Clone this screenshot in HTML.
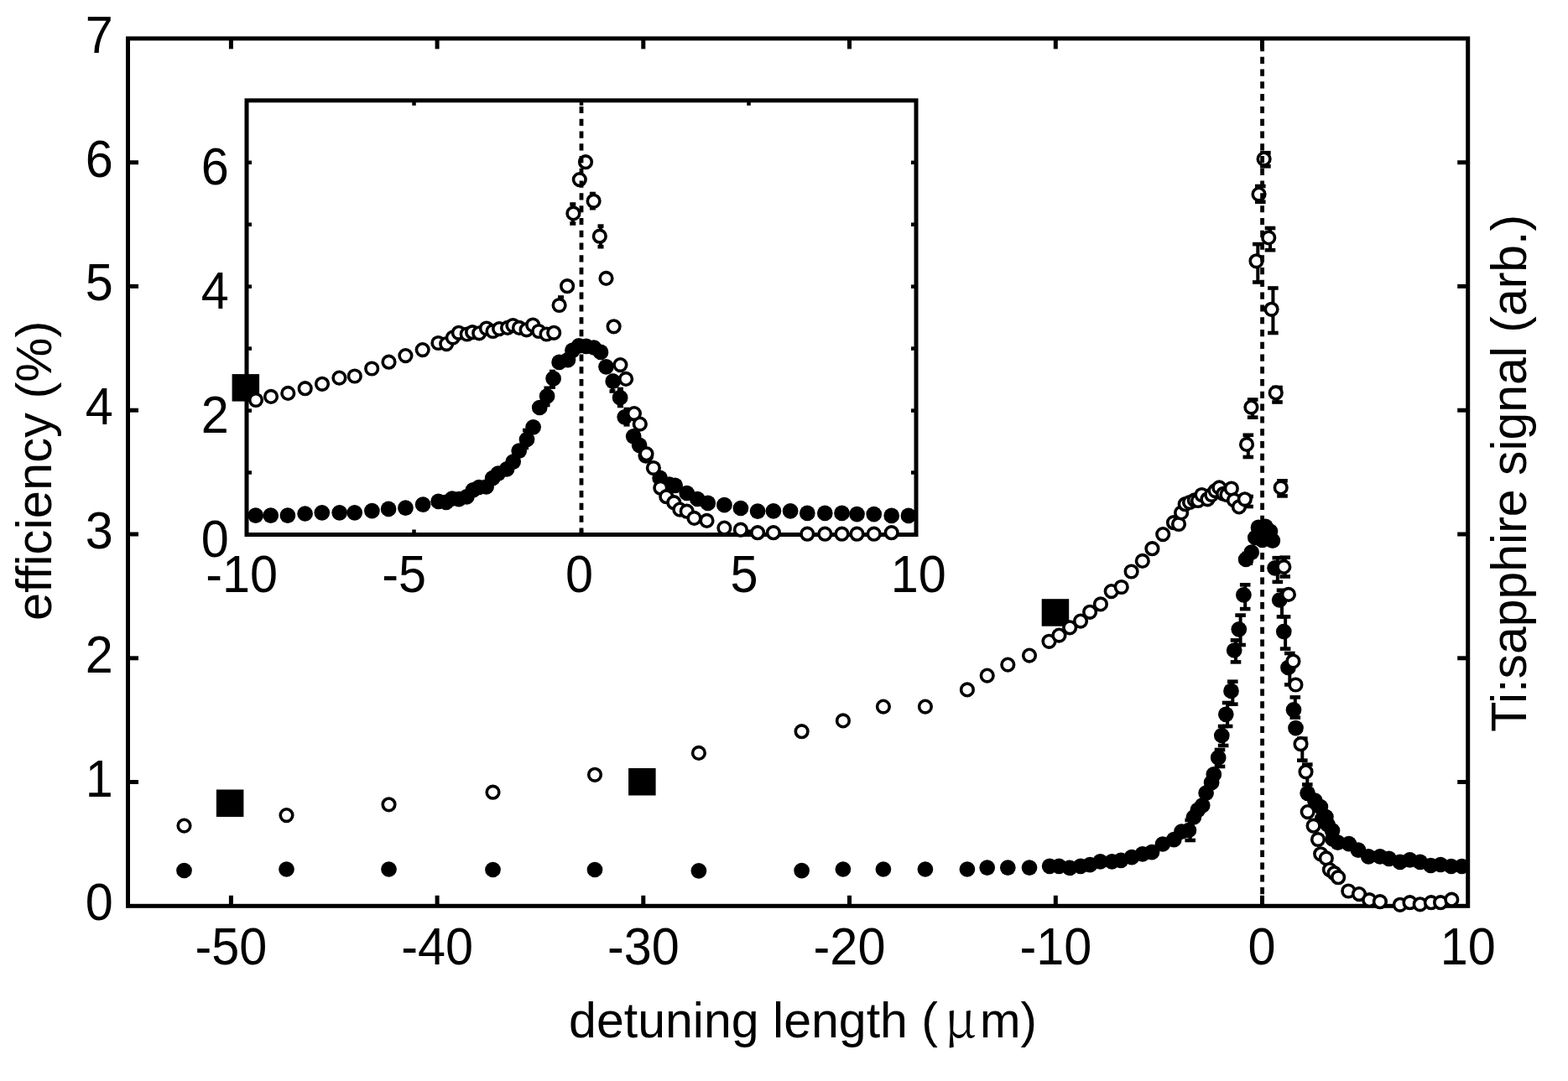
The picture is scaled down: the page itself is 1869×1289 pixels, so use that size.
<!DOCTYPE html><html><head><meta charset="utf-8"><title>efficiency vs detuning length</title>
<style>html,body{margin:0;padding:0;background:#fff;}svg{display:block;}text{font-family:"Liberation Sans",Arial,Helvetica,sans-serif;fill:#000;}</style></head><body>
<svg width="1869" height="1289" viewBox="0 0 1869 1289">
<rect x="0" y="0" width="1869" height="1289" fill="#fff"/>
<g stroke="#000" stroke-width="5.0" fill="none" stroke-linecap="square">
<rect x="152.5" y="45.9" width="1597.2" height="1034.4"/>
<line x1="275.4" y1="1080.3" x2="275.4" y2="1067.8" stroke-linecap="butt"/>
<line x1="275.4" y1="45.9" x2="275.4" y2="58.4" stroke-linecap="butt"/>
<line x1="521.1" y1="1080.3" x2="521.1" y2="1067.8" stroke-linecap="butt"/>
<line x1="521.1" y1="45.9" x2="521.1" y2="58.4" stroke-linecap="butt"/>
<line x1="766.8" y1="1080.3" x2="766.8" y2="1067.8" stroke-linecap="butt"/>
<line x1="766.8" y1="45.9" x2="766.8" y2="58.4" stroke-linecap="butt"/>
<line x1="1012.5" y1="1080.3" x2="1012.5" y2="1067.8" stroke-linecap="butt"/>
<line x1="1012.5" y1="45.9" x2="1012.5" y2="58.4" stroke-linecap="butt"/>
<line x1="1258.3" y1="1080.3" x2="1258.3" y2="1067.8" stroke-linecap="butt"/>
<line x1="1258.3" y1="45.9" x2="1258.3" y2="58.4" stroke-linecap="butt"/>
<line x1="1504.5" y1="1080.3" x2="1504.5" y2="1067.8" stroke-linecap="butt"/>
<line x1="1504.5" y1="45.9" x2="1504.5" y2="58.4" stroke-linecap="butt"/>
<line x1="152.5" y1="932.5" x2="165" y2="932.5" stroke-linecap="butt"/>
<line x1="1749.7" y1="932.5" x2="1737.2" y2="932.5" stroke-linecap="butt"/>
<line x1="152.5" y1="784.8" x2="165" y2="784.8" stroke-linecap="butt"/>
<line x1="1749.7" y1="784.8" x2="1737.2" y2="784.8" stroke-linecap="butt"/>
<line x1="152.5" y1="637" x2="165" y2="637" stroke-linecap="butt"/>
<line x1="1749.7" y1="637" x2="1737.2" y2="637" stroke-linecap="butt"/>
<line x1="152.5" y1="489.2" x2="165" y2="489.2" stroke-linecap="butt"/>
<line x1="1749.7" y1="489.2" x2="1737.2" y2="489.2" stroke-linecap="butt"/>
<line x1="152.5" y1="341.4" x2="165" y2="341.4" stroke-linecap="butt"/>
<line x1="1749.7" y1="341.4" x2="1737.2" y2="341.4" stroke-linecap="butt"/>
<line x1="152.5" y1="193.7" x2="165" y2="193.7" stroke-linecap="butt"/>
<line x1="1749.7" y1="193.7" x2="1737.2" y2="193.7" stroke-linecap="butt"/>
</g>
<text transform="translate(134.8,1097.3) scale(0.99,1.06)" font-size="60" text-anchor="end">0</text>
<text transform="translate(134.8,949.5) scale(0.99,1.06)" font-size="60" text-anchor="end">1</text>
<text transform="translate(134.8,801.8) scale(0.99,1.06)" font-size="60" text-anchor="end">2</text>
<text transform="translate(134.8,654) scale(0.99,1.06)" font-size="60" text-anchor="end">3</text>
<text transform="translate(134.8,506.2) scale(0.99,1.06)" font-size="60" text-anchor="end">4</text>
<text transform="translate(134.8,358.4) scale(0.99,1.06)" font-size="60" text-anchor="end">5</text>
<text transform="translate(134.8,210.7) scale(0.99,1.06)" font-size="60" text-anchor="end">6</text>
<text transform="translate(134.8,62.9) scale(0.99,1.06)" font-size="60" text-anchor="end">7</text>
<text transform="translate(275.4,1150) scale(0.99,1.06)" font-size="60" text-anchor="middle">-50</text>
<text transform="translate(521.1,1150) scale(0.99,1.06)" font-size="60" text-anchor="middle">-40</text>
<text transform="translate(766.8,1150) scale(0.99,1.06)" font-size="60" text-anchor="middle">-30</text>
<text transform="translate(1012.5,1150) scale(0.99,1.06)" font-size="60" text-anchor="middle">-20</text>
<text transform="translate(1258.3,1150) scale(0.99,1.06)" font-size="60" text-anchor="middle">-10</text>
<text transform="translate(1504,1150) scale(0.99,1.06)" font-size="60" text-anchor="middle">0</text>
<text transform="translate(1749.7,1150) scale(0.99,1.06)" font-size="60" text-anchor="middle">10</text>
<text transform="translate(678.05,1237.4) scale(0.9845,1)" font-size="60">detuning length (</text>
<text x="1125.7" y="1237.4" font-size="60" style="font-family:'Noto Serif CJK SC',serif">μ</text>
<text transform="translate(1168,1237.4) scale(0.971,1)" font-size="60">m)</text>
<text transform="translate(61.4,740) rotate(-90) scale(0.9955,1)" font-size="60">efficiency (%)</text>
<text transform="translate(1818.6,872.8) rotate(-90) scale(0.9823,1)" font-size="60">Ti:sapphire signal (arb.)</text>
<g stroke="#000"><line x1="1508.4" y1="182.2" x2="1508.4" y2="198.3" stroke-width="4.0"/><line x1="1502.1" y1="182.2" x2="1514.7" y2="182.2" stroke-width="4.6"/><line x1="1502.1" y1="198.3" x2="1514.7" y2="198.3" stroke-width="4.6"/><line x1="1502.3" y1="222" x2="1502.3" y2="240.7" stroke-width="4.0"/><line x1="1496" y1="222" x2="1508.6" y2="222" stroke-width="4.6"/><line x1="1496" y1="240.7" x2="1508.6" y2="240.7" stroke-width="4.6"/><line x1="1514" y1="272" x2="1514" y2="298.2" stroke-width="4.0"/><line x1="1507.7" y1="272" x2="1520.3" y2="272" stroke-width="4.6"/><line x1="1507.7" y1="298.2" x2="1520.3" y2="298.2" stroke-width="4.6"/><line x1="1499.3" y1="291.1" x2="1499.3" y2="336.5" stroke-width="4.0"/><line x1="1493" y1="291.1" x2="1505.6" y2="291.1" stroke-width="4.6"/><line x1="1493" y1="336.5" x2="1505.6" y2="336.5" stroke-width="4.6"/><line x1="1517.4" y1="343.5" x2="1517.4" y2="397" stroke-width="4.0"/><line x1="1511.1" y1="343.5" x2="1523.7" y2="343.5" stroke-width="4.6"/><line x1="1511.1" y1="397" x2="1523.7" y2="397" stroke-width="4.6"/><line x1="1522.5" y1="462" x2="1522.5" y2="479.5" stroke-width="4.0"/><line x1="1516.2" y1="462" x2="1528.8" y2="462" stroke-width="4.6"/><line x1="1516.2" y1="479.5" x2="1528.8" y2="479.5" stroke-width="4.6"/><line x1="1493.2" y1="476.5" x2="1493.2" y2="497.7" stroke-width="4.0"/><line x1="1486.9" y1="476.5" x2="1499.5" y2="476.5" stroke-width="4.6"/><line x1="1486.9" y1="497.7" x2="1499.5" y2="497.7" stroke-width="4.6"/><line x1="1487.8" y1="518.8" x2="1487.8" y2="545" stroke-width="4.0"/><line x1="1481.5" y1="518.8" x2="1494.1" y2="518.8" stroke-width="4.6"/><line x1="1481.5" y1="545" x2="1494.1" y2="545" stroke-width="4.6"/><line x1="1528.5" y1="573.3" x2="1528.5" y2="591.4" stroke-width="4.0"/><line x1="1522.2" y1="573.3" x2="1534.8" y2="573.3" stroke-width="4.6"/><line x1="1522.2" y1="591.4" x2="1534.8" y2="591.4" stroke-width="4.6"/><line x1="1487.6" y1="592" x2="1487.6" y2="604" stroke-width="4.0"/><line x1="1481.3" y1="592" x2="1493.9" y2="592" stroke-width="4.6"/><line x1="1481.3" y1="604" x2="1493.9" y2="604" stroke-width="4.6"/><line x1="1531.7" y1="664.7" x2="1531.7" y2="687.5" stroke-width="4.0"/><line x1="1525.4" y1="664.7" x2="1538" y2="664.7" stroke-width="4.6"/><line x1="1525.4" y1="687.5" x2="1538" y2="687.5" stroke-width="4.6"/><line x1="1522.8" y1="665.2" x2="1522.8" y2="693.9" stroke-width="4.0"/><line x1="1516.5" y1="665.2" x2="1529.1" y2="665.2" stroke-width="4.6"/><line x1="1516.5" y1="693.9" x2="1529.1" y2="693.9" stroke-width="4.6"/><line x1="1528" y1="703.8" x2="1528" y2="735.4" stroke-width="4.0"/><line x1="1521.7" y1="703.8" x2="1534.3" y2="703.8" stroke-width="4.6"/><line x1="1521.7" y1="735.4" x2="1534.3" y2="735.4" stroke-width="4.6"/><line x1="1532.1" y1="735.4" x2="1532.1" y2="773.6" stroke-width="4.0"/><line x1="1525.8" y1="735.4" x2="1538.4" y2="735.4" stroke-width="4.6"/><line x1="1525.8" y1="773.6" x2="1538.4" y2="773.6" stroke-width="4.6"/><line x1="1484.2" y1="697.3" x2="1484.2" y2="726.1" stroke-width="4.0"/><line x1="1477.9" y1="697.3" x2="1490.5" y2="697.3" stroke-width="4.6"/><line x1="1477.9" y1="726.1" x2="1490.5" y2="726.1" stroke-width="4.6"/><line x1="1478.6" y1="733.6" x2="1478.6" y2="769" stroke-width="4.0"/><line x1="1472.3" y1="733.6" x2="1484.9" y2="733.6" stroke-width="4.6"/><line x1="1472.3" y1="769" x2="1484.9" y2="769" stroke-width="4.6"/><line x1="1473" y1="763.4" x2="1473" y2="789.4" stroke-width="4.0"/><line x1="1466.7" y1="763.4" x2="1479.3" y2="763.4" stroke-width="4.6"/><line x1="1466.7" y1="789.4" x2="1479.3" y2="789.4" stroke-width="4.6"/><line x1="1469.3" y1="812.7" x2="1469.3" y2="839.7" stroke-width="4.0"/><line x1="1463" y1="812.7" x2="1475.6" y2="812.7" stroke-width="4.6"/><line x1="1463" y1="839.7" x2="1475.6" y2="839.7" stroke-width="4.6"/><line x1="1463.1" y1="838" x2="1463.1" y2="866" stroke-width="4.0"/><line x1="1456.8" y1="838" x2="1469.4" y2="838" stroke-width="4.6"/><line x1="1456.8" y1="866" x2="1469.4" y2="866" stroke-width="4.6"/><line x1="1458.1" y1="866" x2="1458.1" y2="889" stroke-width="4.0"/><line x1="1451.8" y1="866" x2="1464.4" y2="866" stroke-width="4.6"/><line x1="1451.8" y1="889" x2="1464.4" y2="889" stroke-width="4.6"/><line x1="1454" y1="894" x2="1454" y2="914" stroke-width="4.0"/><line x1="1447.7" y1="894" x2="1460.3" y2="894" stroke-width="4.6"/><line x1="1447.7" y1="914" x2="1460.3" y2="914" stroke-width="4.6"/><line x1="1543.8" y1="831.4" x2="1543.8" y2="855.6" stroke-width="4.0"/><line x1="1537.5" y1="831.4" x2="1550.1" y2="831.4" stroke-width="4.6"/><line x1="1537.5" y1="855.6" x2="1550.1" y2="855.6" stroke-width="4.6"/><line x1="1552.3" y1="880.6" x2="1552.3" y2="906.7" stroke-width="4.0"/><line x1="1546" y1="880.6" x2="1558.6" y2="880.6" stroke-width="4.6"/><line x1="1546" y1="906.7" x2="1558.6" y2="906.7" stroke-width="4.6"/><line x1="1558.3" y1="911.6" x2="1558.3" y2="935.5" stroke-width="4.0"/><line x1="1552" y1="911.6" x2="1564.6" y2="911.6" stroke-width="4.6"/><line x1="1552" y1="935.5" x2="1564.6" y2="935.5" stroke-width="4.6"/><line x1="1486.9" y1="660" x2="1486.9" y2="671.7" stroke-width="4.0"/><line x1="1480.6" y1="660" x2="1493.2" y2="660" stroke-width="4.6"/><line x1="1480.6" y1="671.7" x2="1493.2" y2="671.7" stroke-width="4.6"/><line x1="1418.7" y1="978" x2="1418.7" y2="1002" stroke-width="4.0"/><line x1="1412.4" y1="978" x2="1425" y2="978" stroke-width="4.6"/><line x1="1412.4" y1="1002" x2="1425" y2="1002" stroke-width="4.6"/><line x1="1537.3" y1="779" x2="1537.3" y2="816.4" stroke-width="4.0"/><line x1="1531" y1="779" x2="1543.6" y2="779" stroke-width="4.6"/><line x1="1531" y1="816.4" x2="1543.6" y2="816.4" stroke-width="4.6"/></g>
<g fill="#000"><circle cx="219.5" cy="1038" r="9.35"/><circle cx="341.5" cy="1036.5" r="9.35"/><circle cx="463.5" cy="1036.5" r="9.35"/><circle cx="587.5" cy="1037" r="9.35"/><circle cx="709" cy="1037" r="9.35"/><circle cx="832.9" cy="1038.3" r="9.35"/><circle cx="955.6" cy="1038.1" r="9.35"/><circle cx="1004.9" cy="1036.5" r="9.35"/><circle cx="1052.9" cy="1036.5" r="9.35"/><circle cx="1102.9" cy="1036.5" r="9.35"/><circle cx="1152.9" cy="1036.5" r="9.35"/><circle cx="1176.7" cy="1034.6" r="9.35"/><circle cx="1201.3" cy="1034.6" r="9.35"/><circle cx="1227" cy="1034.6" r="9.35"/><circle cx="1251.1" cy="1032.8" r="9.35"/><circle cx="1262.3" cy="1032.8" r="9.35"/><circle cx="1275.1" cy="1034.9" r="9.35"/><circle cx="1288" cy="1032.8" r="9.35"/><circle cx="1299.2" cy="1031.2" r="9.35"/><circle cx="1311.5" cy="1027.4" r="9.35"/><circle cx="1325.4" cy="1027.4" r="9.35"/><circle cx="1336.1" cy="1025.8" r="9.35"/><circle cx="1349" cy="1022.1" r="9.35"/><circle cx="1361.8" cy="1018.3" r="9.35"/><circle cx="1373" cy="1016.2" r="9.35"/><circle cx="1385.9" cy="1006.5" r="9.35"/><circle cx="1399.3" cy="1001.2" r="9.35"/><circle cx="1408.4" cy="991.6" r="9.35"/><circle cx="1416.9" cy="990" r="9.35"/><circle cx="1422.9" cy="974.5" r="9.35"/><circle cx="1427.8" cy="965.8" r="9.35"/><circle cx="1433.2" cy="960.4" r="9.35"/><circle cx="1437.6" cy="945.7" r="9.35"/><circle cx="1444.1" cy="933.2" r="9.35"/><circle cx="1446.8" cy="923.4" r="9.35"/><circle cx="1452.2" cy="903.4" r="9.35"/><circle cx="1456.3" cy="877" r="9.35"/><circle cx="1461.3" cy="851.8" r="9.35"/><circle cx="1467.5" cy="823.9" r="9.35"/><circle cx="1471.2" cy="775.5" r="9.35"/><circle cx="1476.8" cy="750.3" r="9.35"/><circle cx="1482.4" cy="709.4" r="9.35"/><circle cx="1485.1" cy="667" r="9.35"/><circle cx="1491.7" cy="658.7" r="9.35"/><circle cx="1496.3" cy="641" r="9.35"/><circle cx="1500" cy="628.9" r="9.35"/><circle cx="1504.7" cy="643.8" r="9.35"/><circle cx="1508.4" cy="627.9" r="9.35"/><circle cx="1514" cy="633.5" r="9.35"/><circle cx="1516.8" cy="644.7" r="9.35"/><circle cx="1519.6" cy="677.3" r="9.35"/><circle cx="1525.2" cy="715.5" r="9.35"/><circle cx="1530.3" cy="753.1" r="9.35"/><circle cx="1535.5" cy="796" r="9.35"/><circle cx="1542" cy="846.3" r="9.35"/><circle cx="1544.5" cy="868.1" r="9.35"/><circle cx="1558.6" cy="945.8" r="9.35"/><circle cx="1567.3" cy="954.5" r="9.35"/><circle cx="1573.9" cy="962.1" r="9.35"/><circle cx="1576.3" cy="976.1" r="9.35"/><circle cx="1580.4" cy="974" r="9.35"/><circle cx="1582.4" cy="983.2" r="9.35"/><circle cx="1588" cy="990.3" r="9.35"/><circle cx="1588.5" cy="1000.5" r="9.35"/><circle cx="1594.6" cy="1004.6" r="9.35"/><circle cx="1607.8" cy="1006.1" r="9.35"/><circle cx="1619" cy="1013.7" r="9.35"/><circle cx="1631.2" cy="1021.3" r="9.35"/><circle cx="1644.9" cy="1021.3" r="9.35"/><circle cx="1655.6" cy="1023.9" r="9.35"/><circle cx="1668.8" cy="1027.9" r="9.35"/><circle cx="1680.5" cy="1025.4" r="9.35"/><circle cx="1692.7" cy="1027.9" r="9.35"/><circle cx="1705.4" cy="1032" r="9.35"/><circle cx="1717.1" cy="1031" r="9.35"/><circle cx="1729.8" cy="1033" r="9.35"/><circle cx="1742.5" cy="1033" r="9.35"/></g>
<g fill="#000"><rect x="257.9" y="941.5" width="32.5" height="32.5"/><rect x="749.1" y="916" width="32.5" height="32.5"/><rect x="1241.7" y="714.2" width="32.5" height="32.5"/></g>
<g fill="#fff" stroke="#000" stroke-width="3.6"><circle cx="219.5" cy="984.6" r="7.3"/><circle cx="341.5" cy="972.1" r="7.3"/><circle cx="463.5" cy="959.3" r="7.3"/><circle cx="587.5" cy="944.7" r="7.3"/><circle cx="709" cy="923.8" r="7.3"/><circle cx="832.9" cy="897.9" r="7.3"/><circle cx="955.6" cy="872.2" r="7.3"/><circle cx="1004.9" cy="859.4" r="7.3"/><circle cx="1052.9" cy="842.6" r="7.3"/><circle cx="1102.9" cy="842.6" r="7.3"/><circle cx="1152.9" cy="822.4" r="7.3"/><circle cx="1176.7" cy="805.6" r="7.3"/><circle cx="1201.3" cy="792.6" r="7.3"/><circle cx="1227" cy="781.6" r="7.3"/><circle cx="1250.5" cy="764.8" r="7.3"/><circle cx="1262.4" cy="757.6" r="7.3"/><circle cx="1275.2" cy="748.3" r="7.3"/><circle cx="1288" cy="740.6" r="7.3"/><circle cx="1299.1" cy="729.8" r="7.3"/><circle cx="1311.9" cy="720.4" r="7.3"/><circle cx="1324.7" cy="705.1" r="7.3"/><circle cx="1336.7" cy="700" r="7.3"/><circle cx="1348.6" cy="681.5" r="7.3"/><circle cx="1361.8" cy="668.9" r="7.3"/><circle cx="1373.4" cy="654.2" r="7.3"/><circle cx="1386.2" cy="637.1" r="7.3"/><circle cx="1399" cy="623.2" r="7.3"/><circle cx="1405" cy="625" r="7.3"/><circle cx="1408.1" cy="611.4" r="7.3"/><circle cx="1412.7" cy="601.2" r="7.3"/><circle cx="1418" cy="599" r="7.3"/><circle cx="1423.9" cy="596.4" r="7.3"/><circle cx="1428" cy="597" r="7.3"/><circle cx="1432.5" cy="590" r="7.3"/><circle cx="1439.4" cy="595.3" r="7.3"/><circle cx="1444.2" cy="590" r="7.3"/><circle cx="1448.5" cy="585.1" r="7.3"/><circle cx="1453.3" cy="581.4" r="7.3"/><circle cx="1458.1" cy="588.9" r="7.3"/><circle cx="1462.4" cy="590" r="7.3"/><circle cx="1467.8" cy="582.5" r="7.3"/><circle cx="1471" cy="596.4" r="7.3"/><circle cx="1476.9" cy="604.4" r="7.3"/><circle cx="1483.8" cy="595.3" r="7.3"/><circle cx="1486" cy="529.9" r="7.3"/><circle cx="1491.4" cy="485.6" r="7.3"/><circle cx="1497.5" cy="311.3" r="7.3"/><circle cx="1500.5" cy="231.6" r="7.3"/><circle cx="1506.6" cy="189.6" r="7.3"/><circle cx="1512.2" cy="283.4" r="7.3"/><circle cx="1515.6" cy="368.8" r="7.3"/><circle cx="1520.7" cy="468.4" r="7.3"/><circle cx="1526.7" cy="581.4" r="7.3"/><circle cx="1530.3" cy="675.9" r="7.3"/><circle cx="1535.9" cy="708.9" r="7.3"/><circle cx="1541.4" cy="788.5" r="7.3"/><circle cx="1544.4" cy="816.5" r="7.3"/><circle cx="1550.5" cy="887.2" r="7.3"/><circle cx="1556.5" cy="920.3" r="7.3"/><circle cx="1558.7" cy="968.1" r="7.3"/><circle cx="1565.6" cy="984.7" r="7.3"/><circle cx="1571" cy="1001" r="7.3"/><circle cx="1574.2" cy="1018.3" r="7.3"/><circle cx="1580.8" cy="1023.4" r="7.3"/><circle cx="1584.9" cy="1037.1" r="7.3"/><circle cx="1590.5" cy="1041.2" r="7.3"/><circle cx="1595.1" cy="1046.2" r="7.3"/><circle cx="1607.3" cy="1062.5" r="7.3"/><circle cx="1620" cy="1066.1" r="7.3"/><circle cx="1632.2" cy="1073.2" r="7.3"/><circle cx="1644.9" cy="1075.2" r="7.3"/><circle cx="1668.8" cy="1078.8" r="7.3"/><circle cx="1680.5" cy="1076.2" r="7.3"/><circle cx="1692.7" cy="1078.3" r="7.3"/><circle cx="1705.9" cy="1076.2" r="7.3"/><circle cx="1717.1" cy="1076.2" r="7.3"/><circle cx="1730.3" cy="1072.7" r="7.3"/></g>
<line x1="1504.6" y1="45.9" x2="1504.6" y2="1080.3" stroke="#000" stroke-width="4.8" stroke-dasharray="8.2 6.58" stroke-dashoffset="7.68"/>
<rect x="294.0" y="119.8" width="798" height="517.7" fill="#fff" stroke="none"/>
<g stroke="#000" stroke-width="4.5" fill="none">
<line x1="294.0" y1="563.5" x2="300.0" y2="563.5"/>
<line x1="1092.0" y1="563.5" x2="1086.0" y2="563.5"/>
<line x1="294.0" y1="489.6" x2="300.0" y2="489.6"/>
<line x1="1092.0" y1="489.6" x2="1086.0" y2="489.6"/>
<line x1="294.0" y1="415.6" x2="300.0" y2="415.6"/>
<line x1="1092.0" y1="415.6" x2="1086.0" y2="415.6"/>
<line x1="294.0" y1="341.7" x2="300.0" y2="341.7"/>
<line x1="1092.0" y1="341.7" x2="1086.0" y2="341.7"/>
<line x1="294.0" y1="267.7" x2="300.0" y2="267.7"/>
<line x1="1092.0" y1="267.7" x2="1086.0" y2="267.7"/>
<line x1="294.0" y1="193.8" x2="300.0" y2="193.8"/>
<line x1="1092.0" y1="193.8" x2="1086.0" y2="193.8"/>
<line x1="493.5" y1="637.5" x2="493.5" y2="631.5"/>
<line x1="493.5" y1="119.8" x2="493.5" y2="125.8"/>
<line x1="693" y1="637.5" x2="693" y2="631.5"/>
<line x1="693" y1="119.8" x2="693" y2="125.8"/>
<line x1="892.5" y1="637.5" x2="892.5" y2="631.5"/>
<line x1="892.5" y1="119.8" x2="892.5" y2="125.8"/>
</g>
<rect x="294.0" y="119.8" width="798" height="517.7" fill="none" stroke="#000" stroke-width="5.0"/>
<g stroke="#000"><line x1="706.4" y1="231" x2="706.4" y2="248.2" stroke-width="4.0"/><line x1="702.9" y1="231" x2="709.9" y2="231" stroke-width="4.6"/><line x1="702.9" y1="248.2" x2="709.9" y2="248.2" stroke-width="4.6"/><line x1="682.8" y1="243.5" x2="682.8" y2="266.5" stroke-width="4.0"/><line x1="679.3" y1="243.5" x2="686.3" y2="243.5" stroke-width="4.6"/><line x1="679.3" y1="266.5" x2="686.3" y2="266.5" stroke-width="4.6"/><line x1="716" y1="269.6" x2="716" y2="294.2" stroke-width="4.0"/><line x1="712.5" y1="269.6" x2="719.5" y2="269.6" stroke-width="4.6"/><line x1="712.5" y1="294.2" x2="719.5" y2="294.2" stroke-width="4.6"/><line x1="668.5" y1="354.5" x2="668.5" y2="368" stroke-width="4.0"/><line x1="665" y1="354.5" x2="672" y2="354.5" stroke-width="4.6"/><line x1="665" y1="368" x2="672" y2="368" stroke-width="4.6"/><line x1="730" y1="448" x2="730" y2="466.5" stroke-width="4.0"/><line x1="726.5" y1="448" x2="733.5" y2="448" stroke-width="4.6"/><line x1="726.5" y1="466.5" x2="733.5" y2="466.5" stroke-width="4.6"/><line x1="739.4" y1="464" x2="739.4" y2="484" stroke-width="4.0"/><line x1="735.9" y1="464" x2="742.9" y2="464" stroke-width="4.6"/><line x1="735.9" y1="484" x2="742.9" y2="484" stroke-width="4.6"/><line x1="747" y1="488" x2="747" y2="506.3" stroke-width="4.0"/><line x1="743.5" y1="488" x2="750.5" y2="488" stroke-width="4.6"/><line x1="743.5" y1="506.3" x2="750.5" y2="506.3" stroke-width="4.6"/><line x1="658.4" y1="443" x2="658.4" y2="461.6" stroke-width="4.0"/><line x1="654.9" y1="443" x2="661.9" y2="443" stroke-width="4.6"/><line x1="654.9" y1="461.6" x2="661.9" y2="461.6" stroke-width="4.6"/><line x1="652" y1="462.8" x2="652" y2="483" stroke-width="4.0"/><line x1="648.5" y1="462.8" x2="655.5" y2="462.8" stroke-width="4.6"/><line x1="648.5" y1="483" x2="655.5" y2="483" stroke-width="4.6"/><line x1="626.5" y1="513" x2="626.5" y2="534" stroke-width="4.0"/><line x1="623" y1="513" x2="630" y2="513" stroke-width="4.6"/><line x1="623" y1="534" x2="630" y2="534" stroke-width="4.6"/></g>
<g fill="#000"><circle cx="304.7" cy="614.7" r="9.35"/><circle cx="322.7" cy="614.7" r="9.35"/><circle cx="342.9" cy="614.7" r="9.35"/><circle cx="363.6" cy="612.5" r="9.35"/><circle cx="383.8" cy="611.3" r="9.35"/><circle cx="404.7" cy="611.3" r="9.35"/><circle cx="422.7" cy="611.3" r="9.35"/><circle cx="443.4" cy="609.1" r="9.35"/><circle cx="463.1" cy="606.9" r="9.35"/><circle cx="483.4" cy="605.7" r="9.35"/><circle cx="504.1" cy="601.7" r="9.35"/><circle cx="522.6" cy="597.9" r="9.35"/><circle cx="531.8" cy="598.9" r="9.35"/><circle cx="538.9" cy="594.6" r="9.35"/><circle cx="547" cy="595.1" r="9.35"/><circle cx="556.3" cy="592.4" r="9.35"/><circle cx="563.9" cy="584.3" r="9.35"/><circle cx="570.9" cy="581" r="9.35"/><circle cx="579.6" cy="580.5" r="9.35"/><circle cx="587.2" cy="570.2" r="9.35"/><circle cx="593.7" cy="564.7" r="9.35"/><circle cx="604.1" cy="559.3" r="9.35"/><circle cx="611.7" cy="550.6" r="9.35"/><circle cx="618.7" cy="537.6" r="9.35"/><circle cx="628" cy="524" r="9.35"/><circle cx="635.6" cy="509.3" r="9.35"/><circle cx="643.2" cy="486" r="9.35"/><circle cx="652.1" cy="472.4" r="9.35"/><circle cx="659.6" cy="451.4" r="9.35"/><circle cx="666.6" cy="431.9" r="9.35"/><circle cx="676.9" cy="429.2" r="9.35"/><circle cx="682.4" cy="417.8" r="9.35"/><circle cx="690" cy="412.3" r="9.35"/><circle cx="698.7" cy="412.9" r="9.35"/><circle cx="707.9" cy="414.5" r="9.35"/><circle cx="716" cy="419.9" r="9.35"/><circle cx="722.5" cy="437.3" r="9.35"/><circle cx="730.7" cy="454.7" r="9.35"/><circle cx="739.1" cy="474.2" r="9.35"/><circle cx="744.7" cy="497.3" r="9.35"/><circle cx="755.2" cy="520.3" r="9.35"/><circle cx="762.1" cy="530.8" r="9.35"/><circle cx="769.8" cy="543.3" r="9.35"/><circle cx="786.6" cy="569.9" r="9.35"/><circle cx="797.8" cy="577.5" r="9.35"/><circle cx="804.7" cy="578.9" r="9.35"/><circle cx="818.7" cy="588" r="9.35"/><circle cx="831.3" cy="595" r="9.35"/><circle cx="843.8" cy="599.9" r="9.35"/><circle cx="863.4" cy="602.2" r="9.35"/><circle cx="882.9" cy="606" r="9.35"/><circle cx="903.1" cy="609.7" r="9.35"/><circle cx="921.9" cy="609.3" r="9.35"/><circle cx="942.1" cy="609.3" r="9.35"/><circle cx="962.3" cy="611.9" r="9.35"/><circle cx="983.3" cy="611.9" r="9.35"/><circle cx="1003.5" cy="611.9" r="9.35"/><circle cx="1021.5" cy="613.1" r="9.35"/><circle cx="1041.7" cy="613.1" r="9.35"/><circle cx="1062.7" cy="614.9" r="9.35"/><circle cx="1082.9" cy="614.9" r="9.35"/></g>
<g fill="#000"><rect x="276.6" y="446.1" width="32.5" height="32.5"/></g>
<g fill="#fff" stroke="#000" stroke-width="3.6"><circle cx="305" cy="477" r="7.3"/><circle cx="323" cy="472.9" r="7.3"/><circle cx="343.3" cy="468.9" r="7.3"/><circle cx="363.7" cy="463.2" r="7.3"/><circle cx="384" cy="457.8" r="7.3"/><circle cx="404.4" cy="450.6" r="7.3"/><circle cx="422.8" cy="448.5" r="7.3"/><circle cx="443.2" cy="439.5" r="7.3"/><circle cx="463.5" cy="431.7" r="7.3"/><circle cx="483.4" cy="424.1" r="7.3"/><circle cx="503.7" cy="417.1" r="7.3"/><circle cx="522.4" cy="409" r="7.3"/><circle cx="532.2" cy="410.1" r="7.3"/><circle cx="539.8" cy="402.6" r="7.3"/><circle cx="546.8" cy="396.8" r="7.3"/><circle cx="556.7" cy="398.5" r="7.3"/><circle cx="563.1" cy="396.2" r="7.3"/><circle cx="571.2" cy="397.3" r="7.3"/><circle cx="579.9" cy="391.5" r="7.3"/><circle cx="587.5" cy="395" r="7.3"/><circle cx="595.1" cy="392.1" r="7.3"/><circle cx="605" cy="390.9" r="7.3"/><circle cx="611.4" cy="388" r="7.3"/><circle cx="618.9" cy="390.9" r="7.3"/><circle cx="627.6" cy="393.3" r="7.3"/><circle cx="635.2" cy="387.5" r="7.3"/><circle cx="642.2" cy="395" r="7.3"/><circle cx="651.5" cy="398.5" r="7.3"/><circle cx="660.2" cy="396.8" r="7.3"/><circle cx="666.6" cy="364" r="7.3"/><circle cx="676.1" cy="341.2" r="7.3"/><circle cx="683.4" cy="254.4" r="7.3"/><circle cx="690.8" cy="214.1" r="7.3"/><circle cx="698" cy="193.2" r="7.3"/><circle cx="707.6" cy="239.8" r="7.3"/><circle cx="714.8" cy="281.7" r="7.3"/><circle cx="722.5" cy="331.9" r="7.3"/><circle cx="731.6" cy="389.3" r="7.3"/><circle cx="739.4" cy="435.1" r="7.3"/><circle cx="746.1" cy="451.9" r="7.3"/><circle cx="755.9" cy="493.1" r="7.3"/><circle cx="762.8" cy="505.6" r="7.3"/><circle cx="770.5" cy="541.2" r="7.3"/><circle cx="778.9" cy="558" r="7.3"/><circle cx="787.3" cy="581.7" r="7.3"/><circle cx="794.3" cy="592.2" r="7.3"/><circle cx="803.3" cy="599.2" r="7.3"/><circle cx="810.3" cy="607.6" r="7.3"/><circle cx="818.7" cy="609.7" r="7.3"/><circle cx="827.5" cy="617.9" r="7.3"/><circle cx="842.5" cy="620.9" r="7.3"/><circle cx="863.4" cy="629.6" r="7.3"/><circle cx="882.9" cy="631.7" r="7.3"/><circle cx="903.1" cy="635.2" r="7.3"/><circle cx="921.9" cy="635.2" r="7.3"/><circle cx="962.3" cy="636.7" r="7.3"/><circle cx="983.3" cy="636.7" r="7.3"/><circle cx="1003.5" cy="636.7" r="7.3"/><circle cx="1021.5" cy="636.7" r="7.3"/><circle cx="1041.7" cy="636.7" r="7.3"/><circle cx="1062.7" cy="635.2" r="7.3"/></g>
<line x1="693" y1="119.8" x2="693" y2="637.5" stroke="#000" stroke-width="4.8" stroke-dasharray="8.2 6.58" stroke-dashoffset="7.68"/>
<text transform="translate(272.8,663.7) scale(0.99,1.06)" font-size="60" text-anchor="end">0</text>
<text transform="translate(272.8,515.8) scale(0.99,1.06)" font-size="60" text-anchor="end">2</text>
<text transform="translate(272.8,367.9) scale(0.99,1.06)" font-size="60" text-anchor="end">4</text>
<text transform="translate(272.8,220) scale(0.99,1.06)" font-size="60" text-anchor="end">6</text>
<text transform="translate(288.1,705.5) scale(0.99,1.06)" font-size="60" text-anchor="middle">-10</text>
<text transform="translate(481.6,705.5) scale(0.99,1.06)" font-size="60" text-anchor="middle">-5</text>
<text transform="translate(690.5,705.5) scale(0.99,1.06)" font-size="60" text-anchor="middle">0</text>
<text transform="translate(887.1,705.5) scale(0.99,1.06)" font-size="60" text-anchor="middle">5</text>
<text transform="translate(1094.8,705.5) scale(0.99,1.06)" font-size="60" text-anchor="middle">10</text>
</svg></body></html>
